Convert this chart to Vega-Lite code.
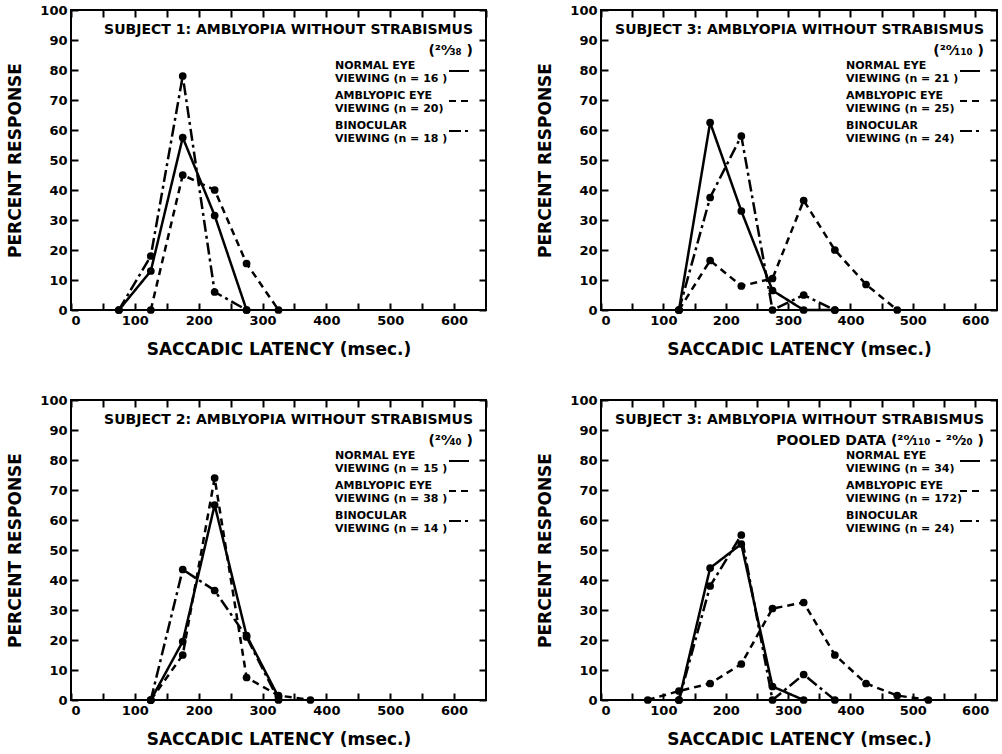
{
  "$schema": "https://vega.github.io/schema/vega-lite/v6.json",
  "padding": {"left": 5, "top": 3, "right": 2, "bottom": 2},
  "config": {
    "font": "DejaVu Sans",
    "view": {"stroke": "black", "strokeWidth": 2},
    "axis": {
      "labelFont": "DejaVu Sans", "labelFontWeight": "bold", "labelFontSize": 13, "labelColor": "black",
      "titleFont": "DejaVu Sans", "titleFontWeight": "bold", "titleFontSize": 17, "titleColor": "black",
      "domain": false, "grid": false, "tickColor": "black", "tickWidth": 2, "tickSize": -7, "labelPadding": 11
    },
    "axisX": {"titlePadding": 14},
    "axisY": {"titlePadding": 15},
    "legend": {
      "orient": "top-right", "offset": 13, "padding": 0,
      "titleFont": "DejaVu Sans", "titleFontSize": 14, "titleFontWeight": "bold", "titleColor": "black",
      "titleAlign": "right", "titleAnchor": "end", "titleLineHeight": 21, "titlePadding": 2, "titleLimit": 600,
      "labelFont": "DejaVu Sans", "labelFontSize": 11, "labelFontWeight": "bold", "labelColor": "black",
      "labelOffset": -135, "labelBaseline": "bottom", "labelLineHeight": 15, "labelLimit": 300,
      "symbolType": "stroke", "symbolStrokeColor": "black", "symbolStrokeWidth": 2, "symbolSize": 400, "rowPadding": 6
    }
  },
  "datasets": {
    "latency": [
      {"panel": "S1", "viewing": "Normal eye", "latency": 75, "percent": 0},
      {"panel": "S1", "viewing": "Normal eye", "latency": 125, "percent": 13},
      {"panel": "S1", "viewing": "Normal eye", "latency": 175, "percent": 57.5},
      {"panel": "S1", "viewing": "Normal eye", "latency": 225, "percent": 31.5},
      {"panel": "S1", "viewing": "Normal eye", "latency": 275, "percent": 0},
      {"panel": "S1", "viewing": "Amblyopic eye", "latency": 125, "percent": 0},
      {"panel": "S1", "viewing": "Amblyopic eye", "latency": 175, "percent": 45},
      {"panel": "S1", "viewing": "Amblyopic eye", "latency": 225, "percent": 40},
      {"panel": "S1", "viewing": "Amblyopic eye", "latency": 275, "percent": 15.5},
      {"panel": "S1", "viewing": "Amblyopic eye", "latency": 325, "percent": 0},
      {"panel": "S1", "viewing": "Binocular", "latency": 75, "percent": 0},
      {"panel": "S1", "viewing": "Binocular", "latency": 125, "percent": 18},
      {"panel": "S1", "viewing": "Binocular", "latency": 175, "percent": 78},
      {"panel": "S1", "viewing": "Binocular", "latency": 225, "percent": 6},
      {"panel": "S1", "viewing": "Binocular", "latency": 275, "percent": 0},

      {"panel": "S3", "viewing": "Normal eye", "latency": 125, "percent": 0},
      {"panel": "S3", "viewing": "Normal eye", "latency": 175, "percent": 62.5},
      {"panel": "S3", "viewing": "Normal eye", "latency": 225, "percent": 33},
      {"panel": "S3", "viewing": "Normal eye", "latency": 275, "percent": 6.5},
      {"panel": "S3", "viewing": "Normal eye", "latency": 325, "percent": 0},
      {"panel": "S3", "viewing": "Normal eye", "latency": 375, "percent": 0},
      {"panel": "S3", "viewing": "Amblyopic eye", "latency": 125, "percent": 0},
      {"panel": "S3", "viewing": "Amblyopic eye", "latency": 175, "percent": 16.5},
      {"panel": "S3", "viewing": "Amblyopic eye", "latency": 225, "percent": 8},
      {"panel": "S3", "viewing": "Amblyopic eye", "latency": 275, "percent": 10.5},
      {"panel": "S3", "viewing": "Amblyopic eye", "latency": 325, "percent": 36.5},
      {"panel": "S3", "viewing": "Amblyopic eye", "latency": 375, "percent": 20},
      {"panel": "S3", "viewing": "Amblyopic eye", "latency": 425, "percent": 8.5},
      {"panel": "S3", "viewing": "Amblyopic eye", "latency": 475, "percent": 0},
      {"panel": "S3", "viewing": "Binocular", "latency": 125, "percent": 0},
      {"panel": "S3", "viewing": "Binocular", "latency": 175, "percent": 37.5},
      {"panel": "S3", "viewing": "Binocular", "latency": 225, "percent": 58},
      {"panel": "S3", "viewing": "Binocular", "latency": 275, "percent": 0},
      {"panel": "S3", "viewing": "Binocular", "latency": 325, "percent": 5},
      {"panel": "S3", "viewing": "Binocular", "latency": 375, "percent": 0},

      {"panel": "S2", "viewing": "Normal eye", "latency": 125, "percent": 0},
      {"panel": "S2", "viewing": "Normal eye", "latency": 175, "percent": 19.5},
      {"panel": "S2", "viewing": "Normal eye", "latency": 225, "percent": 65},
      {"panel": "S2", "viewing": "Normal eye", "latency": 275, "percent": 21.5},
      {"panel": "S2", "viewing": "Normal eye", "latency": 325, "percent": 1},
      {"panel": "S2", "viewing": "Amblyopic eye", "latency": 125, "percent": 0},
      {"panel": "S2", "viewing": "Amblyopic eye", "latency": 175, "percent": 15},
      {"panel": "S2", "viewing": "Amblyopic eye", "latency": 225, "percent": 74},
      {"panel": "S2", "viewing": "Amblyopic eye", "latency": 275, "percent": 7.5},
      {"panel": "S2", "viewing": "Amblyopic eye", "latency": 325, "percent": 1.5},
      {"panel": "S2", "viewing": "Amblyopic eye", "latency": 375, "percent": 0},
      {"panel": "S2", "viewing": "Binocular", "latency": 125, "percent": 0},
      {"panel": "S2", "viewing": "Binocular", "latency": 175, "percent": 43.5},
      {"panel": "S2", "viewing": "Binocular", "latency": 225, "percent": 36.5},
      {"panel": "S2", "viewing": "Binocular", "latency": 275, "percent": 21},
      {"panel": "S2", "viewing": "Binocular", "latency": 325, "percent": 0},

      {"panel": "S3P", "viewing": "Normal eye", "latency": 125, "percent": 0},
      {"panel": "S3P", "viewing": "Normal eye", "latency": 175, "percent": 44},
      {"panel": "S3P", "viewing": "Normal eye", "latency": 225, "percent": 52},
      {"panel": "S3P", "viewing": "Normal eye", "latency": 275, "percent": 4.5},
      {"panel": "S3P", "viewing": "Normal eye", "latency": 325, "percent": 0},
      {"panel": "S3P", "viewing": "Amblyopic eye", "latency": 75, "percent": 0},
      {"panel": "S3P", "viewing": "Amblyopic eye", "latency": 125, "percent": 3},
      {"panel": "S3P", "viewing": "Amblyopic eye", "latency": 175, "percent": 5.5},
      {"panel": "S3P", "viewing": "Amblyopic eye", "latency": 225, "percent": 12},
      {"panel": "S3P", "viewing": "Amblyopic eye", "latency": 275, "percent": 30.5},
      {"panel": "S3P", "viewing": "Amblyopic eye", "latency": 325, "percent": 32.5},
      {"panel": "S3P", "viewing": "Amblyopic eye", "latency": 375, "percent": 15},
      {"panel": "S3P", "viewing": "Amblyopic eye", "latency": 425, "percent": 5.5},
      {"panel": "S3P", "viewing": "Amblyopic eye", "latency": 475, "percent": 1.5},
      {"panel": "S3P", "viewing": "Amblyopic eye", "latency": 525, "percent": 0},
      {"panel": "S3P", "viewing": "Binocular", "latency": 125, "percent": 0},
      {"panel": "S3P", "viewing": "Binocular", "latency": 175, "percent": 38},
      {"panel": "S3P", "viewing": "Binocular", "latency": 225, "percent": 55},
      {"panel": "S3P", "viewing": "Binocular", "latency": 275, "percent": 0},
      {"panel": "S3P", "viewing": "Binocular", "latency": 325, "percent": 8.5},
      {"panel": "S3P", "viewing": "Binocular", "latency": 375, "percent": 0}
    ]
  },
  "columns": 2,
  "spacing": {"row": 35, "column": 47},
  "concat": [
    {
      "width": 415, "height": 300,
      "data": {"name": "latency"},
      "transform": [{"filter": "datum.panel == 'S1'"}],
      "layer": [
        {
          "mark": {"type": "line", "color": "black", "strokeWidth": 2.5},
          "encoding": {
            "x": {"field": "latency", "type": "quantitative", "scale": {"domain": [0, 650], "nice": false},
                  "axis": {"orient": "bottom", "title": "SACCADIC LATENCY (msec.)", "values": [0,50,100,150,200,250,300,350,400,450,500,550,600], "labelExpr": "datum.value % 100 == 0 ? datum.label : ''"}},
            "y": {"field": "percent", "type": "quantitative", "scale": {"domain": [0, 100], "nice": false},
                  "axis": {"orient": "left", "title": "PERCENT RESPONSE", "values": [0,10,20,30,40,50,60,70,80,90,100]}},
            "strokeDash": {"field": "viewing", "type": "nominal",
                  "scale": {"domain": ["Normal eye", "Amblyopic eye", "Binocular"], "range": [[1, 0], [7, 5], [12, 4, 3, 4]]},
                  "legend": {"title": ["SUBJECT 1: AMBLYOPIA WITHOUT STRABISMUS", "(²⁰⁄₃₈ )"],
                             "labelExpr": "datum.value == 'Normal eye' ? ['NORMAL EYE', 'VIEWING (n = 16 )'] : datum.value == 'Amblyopic eye' ? ['AMBLYOPIC EYE', 'VIEWING (n = 20)'] : ['BINOCULAR', 'VIEWING (n = 18 )']"}}
          }
        },
        {
          "mark": {"type": "point", "filled": true, "color": "black", "size": 60, "opacity": 1},
          "encoding": {
            "x": {"field": "latency", "type": "quantitative", "axis": {"orient": "top", "labels": false, "title": null, "values": [0,50,100,150,200,250,300,350,400,450,500,550,600,650]}},
            "y": {"field": "percent", "type": "quantitative", "axis": {"orient": "right", "labels": false, "title": null, "values": [0,10,20,30,40,50,60,70,80,90,100]}}
          }
        }
      ],
      "resolve": {"axis": {"x": "independent", "y": "independent"}}
    },
    {
      "width": 396, "height": 300,
      "data": {"name": "latency"},
      "transform": [{"filter": "datum.panel == 'S3'"}],
      "layer": [
        {
          "mark": {"type": "line", "color": "black", "strokeWidth": 2.5},
          "encoding": {
            "x": {"field": "latency", "type": "quantitative", "scale": {"domain": [0, 635], "nice": false},
                  "axis": {"orient": "bottom", "title": "SACCADIC LATENCY (msec.)", "values": [0,50,100,150,200,250,300,350,400,450,500,550,600], "labelExpr": "datum.value % 100 == 0 ? datum.label : ''"}},
            "y": {"field": "percent", "type": "quantitative", "scale": {"domain": [0, 100], "nice": false},
                  "axis": {"orient": "left", "title": "PERCENT RESPONSE", "values": [0,10,20,30,40,50,60,70,80,90,100]}},
            "strokeDash": {"field": "viewing", "type": "nominal",
                  "scale": {"domain": ["Normal eye", "Amblyopic eye", "Binocular"], "range": [[1, 0], [7, 5], [12, 4, 3, 4]]},
                  "legend": {"title": ["SUBJECT 3: AMBLYOPIA WITHOUT STRABISMUS", "(²⁰⁄₁₁₀ )"],
                             "labelExpr": "datum.value == 'Normal eye' ? ['NORMAL EYE', 'VIEWING (n = 21 )'] : datum.value == 'Amblyopic eye' ? ['AMBLYOPIC EYE', 'VIEWING (n = 25)'] : ['BINOCULAR', 'VIEWING (n = 24)']"}}
          }
        },
        {
          "mark": {"type": "point", "filled": true, "color": "black", "size": 60, "opacity": 1},
          "encoding": {
            "x": {"field": "latency", "type": "quantitative", "axis": {"orient": "top", "labels": false, "title": null, "values": [0,50,100,150,200,250,300,350,400,450,500,550,600]}},
            "y": {"field": "percent", "type": "quantitative", "axis": {"orient": "right", "labels": false, "title": null, "values": [0,10,20,30,40,50,60,70,80,90,100]}}
          }
        }
      ],
      "resolve": {"axis": {"x": "independent", "y": "independent"}}
    },
    {
      "width": 415, "height": 300,
      "data": {"name": "latency"},
      "transform": [{"filter": "datum.panel == 'S2'"}],
      "layer": [
        {
          "mark": {"type": "line", "color": "black", "strokeWidth": 2.5},
          "encoding": {
            "x": {"field": "latency", "type": "quantitative", "scale": {"domain": [0, 650], "nice": false},
                  "axis": {"orient": "bottom", "title": "SACCADIC LATENCY (msec.)", "values": [0,50,100,150,200,250,300,350,400,450,500,550,600], "labelExpr": "datum.value % 100 == 0 ? datum.label : ''"}},
            "y": {"field": "percent", "type": "quantitative", "scale": {"domain": [0, 100], "nice": false},
                  "axis": {"orient": "left", "title": "PERCENT RESPONSE", "values": [0,10,20,30,40,50,60,70,80,90,100]}},
            "strokeDash": {"field": "viewing", "type": "nominal",
                  "scale": {"domain": ["Normal eye", "Amblyopic eye", "Binocular"], "range": [[1, 0], [7, 5], [12, 4, 3, 4]]},
                  "legend": {"title": ["SUBJECT 2: AMBLYOPIA WITHOUT STRABISMUS", "(²⁰⁄₄₀ )"],
                             "labelExpr": "datum.value == 'Normal eye' ? ['NORMAL EYE', 'VIEWING (n = 15 )'] : datum.value == 'Amblyopic eye' ? ['AMBLYOPIC EYE', 'VIEWING (n = 38 )'] : ['BINOCULAR', 'VIEWING (n = 14 )']"}}
          }
        },
        {
          "mark": {"type": "point", "filled": true, "color": "black", "size": 60, "opacity": 1},
          "encoding": {
            "x": {"field": "latency", "type": "quantitative", "axis": {"orient": "top", "labels": false, "title": null, "values": [0,50,100,150,200,250,300,350,400,450,500,550,600,650]}},
            "y": {"field": "percent", "type": "quantitative", "axis": {"orient": "right", "labels": false, "title": null, "values": [0,10,20,30,40,50,60,70,80,90,100]}}
          }
        }
      ],
      "resolve": {"axis": {"x": "independent", "y": "independent"}}
    },
    {
      "width": 396, "height": 300,
      "data": {"name": "latency"},
      "transform": [{"filter": "datum.panel == 'S3P'"}],
      "layer": [
        {
          "mark": {"type": "line", "color": "black", "strokeWidth": 2.5},
          "encoding": {
            "x": {"field": "latency", "type": "quantitative", "scale": {"domain": [0, 635], "nice": false},
                  "axis": {"orient": "bottom", "title": "SACCADIC LATENCY (msec.)", "values": [0,50,100,150,200,250,300,350,400,450,500,550,600], "labelExpr": "datum.value % 100 == 0 ? datum.label : ''"}},
            "y": {"field": "percent", "type": "quantitative", "scale": {"domain": [0, 100], "nice": false},
                  "axis": {"orient": "left", "title": "PERCENT RESPONSE", "values": [0,10,20,30,40,50,60,70,80,90,100]}},
            "strokeDash": {"field": "viewing", "type": "nominal",
                  "scale": {"domain": ["Normal eye", "Amblyopic eye", "Binocular"], "range": [[1, 0], [7, 5], [12, 4, 3, 4]]},
                  "legend": {"title": ["SUBJECT 3: AMBLYOPIA WITHOUT STRABISMUS", "POOLED DATA (²⁰⁄₁₁₀ - ²⁰⁄₂₀ )"],
                             "labelExpr": "datum.value == 'Normal eye' ? ['NORMAL EYE', 'VIEWING (n = 34)'] : datum.value == 'Amblyopic eye' ? ['AMBLYOPIC EYE', 'VIEWING (n = 172)'] : ['BINOCULAR', 'VIEWING (n = 24)']"}}
          }
        },
        {
          "mark": {"type": "point", "filled": true, "color": "black", "size": 60, "opacity": 1},
          "encoding": {
            "x": {"field": "latency", "type": "quantitative", "axis": {"orient": "top", "labels": false, "title": null, "values": [0,50,100,150,200,250,300,350,400,450,500,550,600]}},
            "y": {"field": "percent", "type": "quantitative", "axis": {"orient": "right", "labels": false, "title": null, "values": [0,10,20,30,40,50,60,70,80,90,100]}}
          }
        }
      ],
      "resolve": {"axis": {"x": "independent", "y": "independent"}}
    }
  ],
  "resolve": {"scale": {"strokeDash": "independent", "x": "independent", "y": "independent"}, "legend": {"strokeDash": "independent"}}
}
